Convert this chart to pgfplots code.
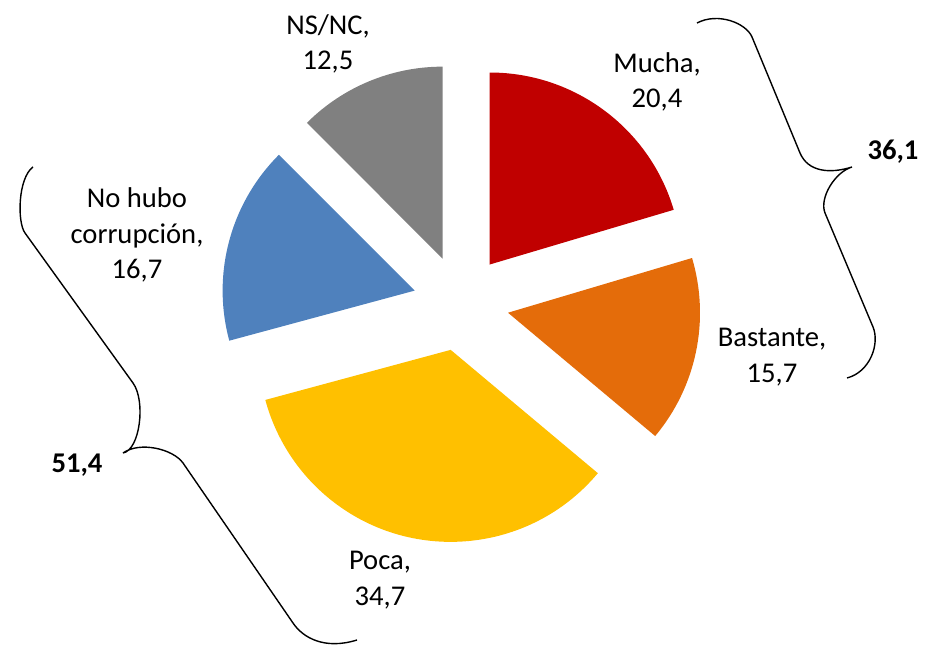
\documentclass[border=0pt]{standalone}
\usepackage{pgfplots}
\pgfplotsset{compat=1.18}
\usepackage{fontspec}
\setmainfont{Carlito}
\definecolor{cMucha}{HTML}{C00000}
\definecolor{cBastante}{HTML}{E46C0A}
\definecolor{cPoca}{HTML}{FFC000}
\definecolor{cNoHubo}{HTML}{4F81BD}
\definecolor{cNSNC}{HTML}{808080}
\def\curangle{90}
% #1 = value (percent), #2 = colour
\newcommand\pieslice[2]{%
  \pgfmathsetmacro\sa{\curangle}%
  \pgfmathsetmacro\ea{\curangle-3.6*#1}%
  \pgfmathsetmacro\ma{\curangle-1.8*#1}%
  \pgfmathsetmacro\vx{461+48*cos(\ma)}%
  \pgfmathsetmacro\vy{343+48*sin(\ma)}%
  \pgfmathsetmacro\sx{\vx+192*cos(\sa)}%
  \pgfmathsetmacro\sy{\vy+192*sin(\sa)}%
  \edef\temp{\noexpand\fill[#2] (axis cs:\vx,\vy) -- (axis cs:\sx,\sy) arc[start angle=\sa, end angle=\ea, radius=96pt] -- cycle;}%
  \temp
  \xdef\curangle{\ea}%
}
\begin{document}
\begin{tikzpicture}[font=\fontsize{14.3}{17.7}\selectfont]
\begin{axis}[x=0.5pt, y=0.5pt, xmin=0, xmax=929, ymin=0, ymax=646,
  hide axis, clip=false]
\path (axis cs:0,0) rectangle (axis cs:929,646);
\pieslice{20.4}{cMucha}
\pieslice{15.7}{cBastante}
\pieslice{34.7}{cPoca}
\pieslice{16.7}{cNoHubo}
\pieslice{12.5}{cNSNC}
% labels
\node[align=center] at (axis cs:328,602) {NS/NC,\\12,5};
\node[align=center] at (axis cs:657,564) {Mucha,\\20,4};
\node[align=center] at (axis cs:137,411) {No hubo\\corrupción,\\16,7};
\node[align=center] at (axis cs:772,289) {Bastante,\\15,7};
\node[align=center] at (axis cs:380,66) {Poca,\\34,7};
\node[font=\fontsize{14.3}{17.7}\selectfont\bfseries] at (axis cs:893,494) {36,1};
\node[font=\fontsize{14.3}{17.7}\selectfont\bfseries] at (axis cs:77,181) {51,4};
% right brace
\draw[line width=0.7pt] (axis cs:697,623) .. controls (axis cs:718,634) and (axis cs:746,623) .. (axis cs:752,609)
  -- (axis cs:800,493) .. controls (axis cs:808,474) and (axis cs:830,472) .. (axis cs:852,479)
  .. controls (axis cs:835,474) and (axis cs:819,448) .. (axis cs:825,433)
  -- (axis cs:873,319) .. controls (axis cs:880,302) and (axis cs:870,274) .. (axis cs:847,268);
% left brace
\draw[line width=0.7pt] (axis cs:33,479) .. controls (axis cs:18,468) and (axis cs:17,424) .. (axis cs:25,413)
  -- (axis cs:133,263) .. controls (axis cs:146,245) and (axis cs:140,196) .. (axis cs:123,193)
  .. controls (axis cs:140,205) and (axis cs:173,197) .. (axis cs:183,183)
  -- (axis cs:293,23) .. controls (axis cs:303,8) and (axis cs:325,-4) .. (axis cs:357,6);
\end{axis}
\end{tikzpicture}
\end{document}
